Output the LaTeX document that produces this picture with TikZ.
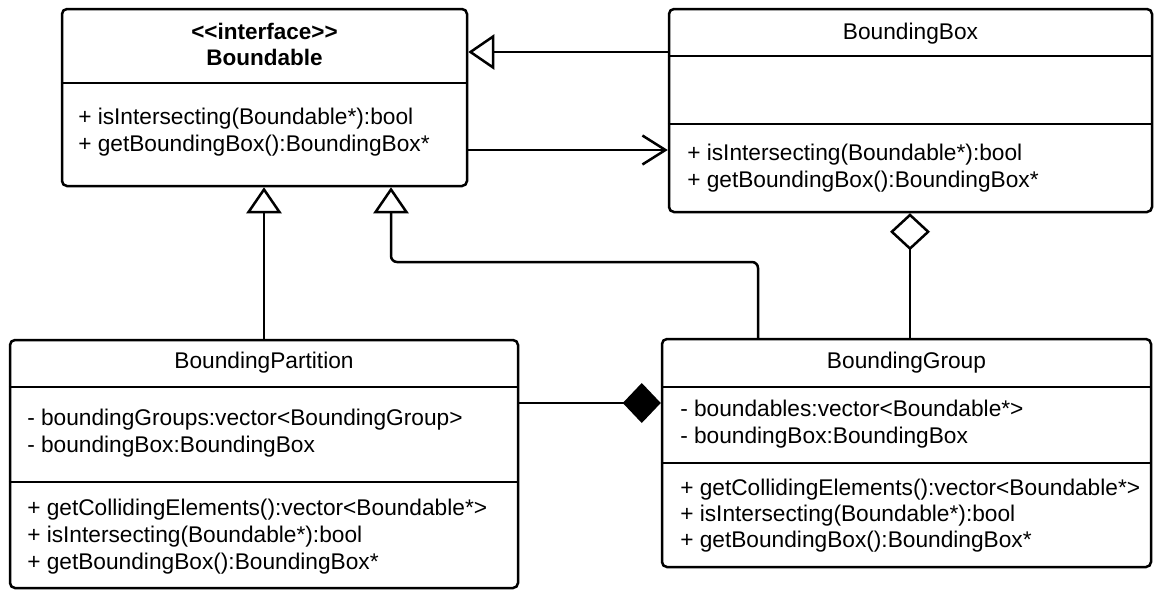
\documentclass[tikz,border=0pt]{standalone}
\usepackage{fontspec}
\setmainfont{Liberation Sans}
\usetikzlibrary{arrows.meta}
\begin{document}
\begin{tikzpicture}[x=1pt,y=-1pt, line width=2.5pt,
  classbox/.style={draw, rounded corners=5pt, fill=white, inner sep=0pt},
  txt/.style={anchor=base west, inner sep=0pt, font=\fontsize{22.7pt}{27pt}\selectfont},
  ttl/.style={anchor=base, inner sep=0pt, font=\fontsize{22.7pt}{27pt}\selectfont},
  bttl/.style={anchor=base, inner sep=0pt, font=\fontsize{22.5pt}{27pt}\selectfont\bfseries},
  divider/.style={line width=2.5pt},
  gen/.style={-{Triangle[open,length=26pt,width=35pt]}},
  assoc/.style={-{Straight Barb[length=23pt,width=29pt]}},
  agg/.style={{Diamond[open,length=37pt,width=40pt]}-},
  comp/.style={-{Diamond[length=38pt,width=40pt]}}]
\useasboundingbox (0,0) rectangle (1154,592);

% Boundable
\node[classbox, minimum width=405pt, minimum height=177pt] (boundable) at (264.5,97.5) {};
\draw[divider] (boundable.west |- 0,83) -- (boundable.east |- 0,83);
\node[bttl] (bst) at (264.5,39) {<\kern0pt<interface>\kern0pt>};
\node[bttl] (bname) at (264.5,65) {Boundable};
\node[txt] (bm1) at (77,124) {+ isIntersecting(Boundable*):bool};
\node[txt] (bm2) at (77,151) {+ getBoundingBox():BoundingBox*};

% BoundingBox
\node[classbox, minimum width=483pt, minimum height=203pt] (bbox) at (910.5,110.5) {};
\draw[divider] (bbox.west |- 0,56) -- (bbox.east |- 0,56);
\draw[divider] (bbox.west |- 0,124) -- (bbox.east |- 0,124);
\node[ttl] (bbname) at (910.5,39) {BoundingBox};
\node[txt] (bbm1) at (686,160) {+ isIntersecting(Boundable*):bool};
\node[txt] (bbm2) at (686,187) {+ getBoundingBox():BoundingBox*};

% BoundingPartition
\node[classbox, minimum width=508pt, minimum height=248pt] (part) at (264,464) {};
\draw[divider] (part.west |- 0,387) -- (part.east |- 0,387);
\draw[divider] (part.west |- 0,482) -- (part.east |- 0,482);
\node[ttl] (pname) at (264,368) {BoundingPartition};
\node[txt] (pa1) at (26,425) {- boundingGroups:vector<BoundingGroup>};
\node[txt] (pa2) at (26,452) {- boundingBox:BoundingBox};
\node[txt] (pm1) at (26,515) {+ getCollidingElements():vector<Boundable*>};
\node[txt] (pm2) at (26,542) {+ isIntersecting(Boundable*):bool};
\node[txt] (pm3) at (26,569) {+ getBoundingBox():BoundingBox*};

% BoundingGroup
\node[classbox, minimum width=489pt, minimum height=228pt] (group) at (906.5,453) {};
\draw[divider] (group.west |- 0,387) -- (group.east |- 0,387);
\draw[divider] (group.west |- 0,463) -- (group.east |- 0,463);
\node[ttl] (gname) at (906.5,368) {BoundingGroup};
\node[txt] (ga1) at (679,416) {- boundables:vector<Boundable*>};
\node[txt] (ga2) at (679,443) {- boundingBox:BoundingBox};
\node[txt] (gm1) at (679,495) {+ getCollidingElements():vector<Boundable*>};
\node[txt] (gm2) at (679,521) {+ isIntersecting(Boundable*):bool};
\node[txt] (gm3) at (679,547) {+ getBoundingBox():BoundingBox*};

% connectors
\draw[gen] (bbox.west |- 0,52) -- (boundable.east |- 0,52);
\draw[assoc] (boundable.east |- 0,150) -- (bbox.west |- 0,150);
\draw[gen] (part.north) -- (part.north |- boundable.south);
\draw[gen, rounded corners=6pt] (group.north -| 758,0) |- (391,262) -- (boundable.south -| 391,0);
\draw[agg] (bbox.south -| 910,0) -- (group.north -| 910,0);
\draw[comp] (part.east |- 0,403) -- (group.west |- 0,403);
\end{tikzpicture}
\end{document}
